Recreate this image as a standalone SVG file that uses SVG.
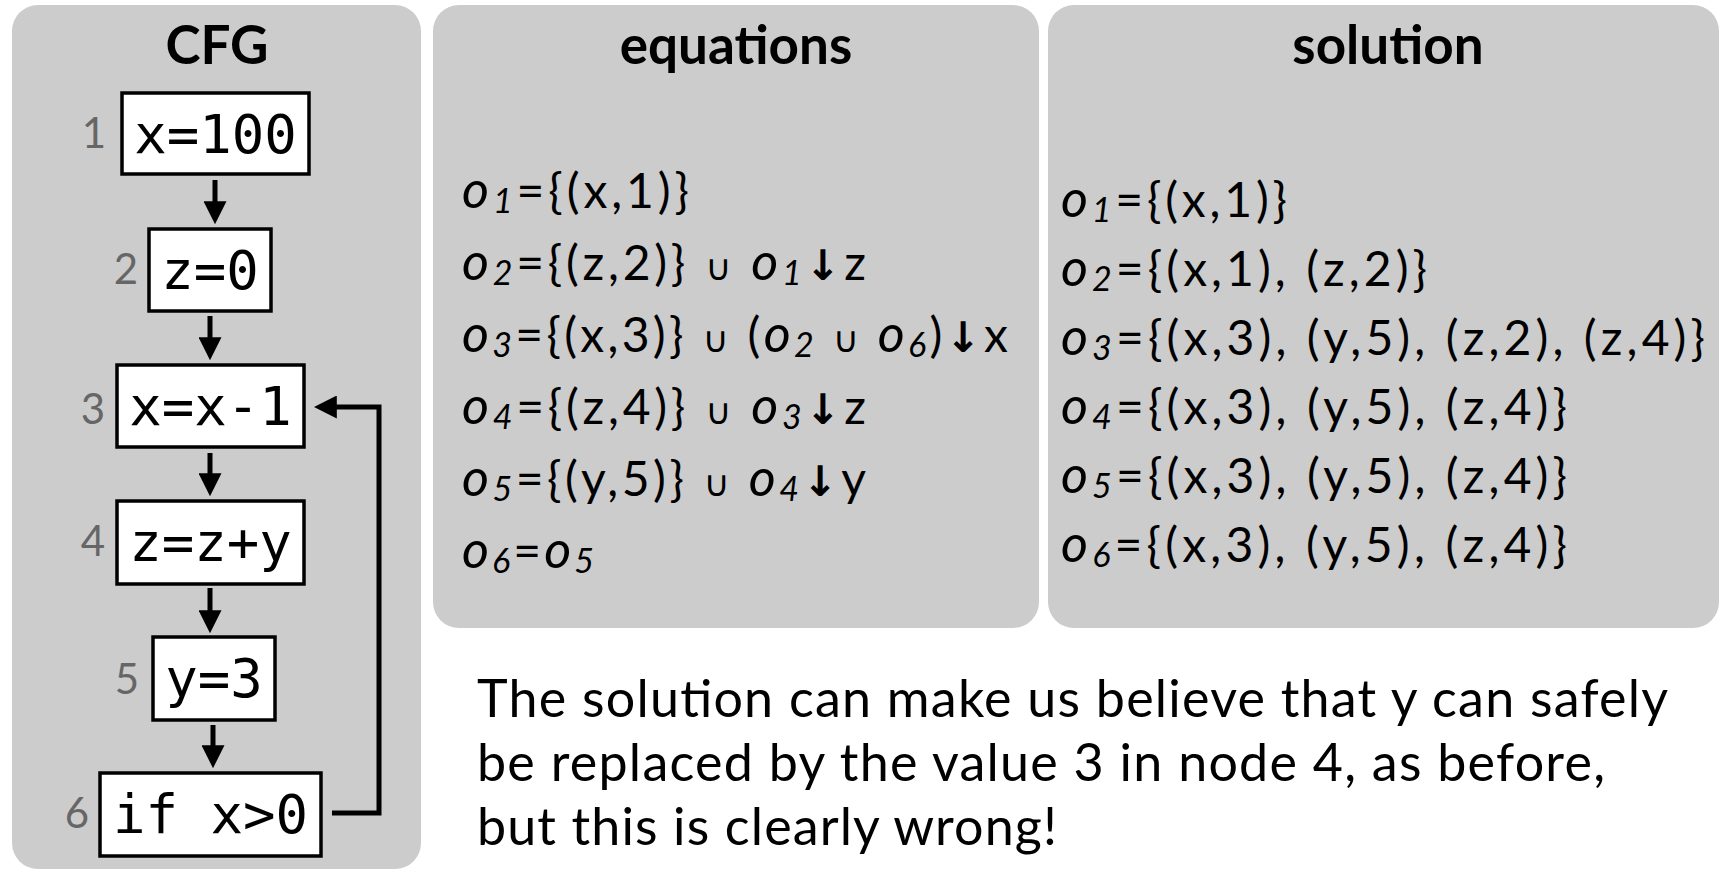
<svg xmlns="http://www.w3.org/2000/svg" width="1721" height="870" viewBox="0 0 1721 870">
<defs>
<style>
.panel{fill:#cccccc}
.title{font-family:"Lato","Open Sans",sans-serif;font-weight:bold;font-size:53px;fill:#000;text-anchor:middle}
.box{fill:#fff;stroke:#000;stroke-width:3.5}
.code{font-family:"DejaVu Sans Mono",monospace;font-size:54px;fill:#000;text-anchor:middle}
.num{font-family:"Lato","Open Sans",sans-serif;font-size:42px;fill:#666;text-anchor:end}
.edge{fill:none;stroke:#000;stroke-width:5}
.eq{font-family:"Lato","Open Sans",sans-serif;font-size:48px;fill:#000}
.o{font-style:italic;font-size:52px}
.s{font-style:italic;font-size:34px}
.u{font-family:"DejaVu Sans",sans-serif;font-size:36px}
.ar{font-family:"DejaVu Sans",sans-serif;font-size:42px;font-weight:bold}
.body{font-family:"Lato","Open Sans",sans-serif;font-size:52px;fill:#000}
</style>
<marker id="ah" viewBox="0 0 20 20" refX="12" refY="10" markerWidth="23" markerHeight="23" markerUnits="userSpaceOnUse" orient="auto">
<path d="M0,0 L20,10 L0,20 z" fill="#000"/>
</marker>
</defs>
<rect width="1721" height="870" fill="#fff"/>

<g id="panel-cfg">
<rect class="panel" x="12" y="5" width="409" height="864" rx="26"/>
<text class="title" x="217" y="64">CFG</text>
</g>
<g id="panel-equations">
<rect class="panel" x="433" y="5" width="606" height="623" rx="26"/>
<text class="title" x="736" y="64">equations</text>
</g>
<g id="panel-solution">
<rect class="panel" x="1048" y="5" width="671" height="623" rx="26"/>
<text class="title" x="1388" y="64">solution</text>
</g>

<g id="node1">
<rect class="box" x="122" y="93" width="187" height="81"/>
<text class="code" x="215.5" y="153">x=100</text>
<text class="num" x="106" y="148">1</text>
</g>
<g id="node2">
<rect class="box" x="149" y="229" width="122" height="82"/>
<text class="code" x="210" y="289">z=0</text>
<text class="num" x="138" y="284">2</text>
</g>
<g id="node3">
<rect class="box" x="117" y="365" width="187" height="82"/>
<text class="code" x="210.5" y="425">x=x-1</text>
<text class="num" x="105" y="424">3</text>
</g>
<g id="node4">
<rect class="box" x="117" y="501" width="187" height="83"/>
<text class="code" x="210.5" y="561">z=z+y</text>
<text class="num" x="105" y="556">4</text>
</g>
<g id="node5">
<rect class="box" x="153" y="637" width="122" height="83"/>
<text class="code" x="214" y="697">y=3</text>
<text class="num" x="139" y="694">5</text>
</g>
<g id="node6">
<rect class="box" x="100" y="773" width="221" height="83"/>
<text class="code" x="210.5" y="833">if x&gt;0</text>
<text class="num" x="89" y="828">6</text>
</g>

<g id="connectors">
<line class="edge" x1="215" y1="180" x2="215" y2="215" marker-end="url(#ah)"/>
<line class="edge" x1="210" y1="316" x2="210" y2="351" marker-end="url(#ah)"/>
<line class="edge" x1="210" y1="453" x2="210" y2="487" marker-end="url(#ah)"/>
<line class="edge" x1="210" y1="588" x2="210" y2="624" marker-end="url(#ah)"/>
<line class="edge" x1="213" y1="725" x2="213" y2="759" marker-end="url(#ah)"/>
<path class="edge" d="M332,813 H379 V407 H323" marker-end="url(#ah)"/>
</g>

<g id="equations">
<text class="eq" x="462" y="208" textLength="227"><tspan class="o">o</tspan><tspan class="s" dy="5">1</tspan><tspan dy="-5">={(x,1)}</tspan></text>
<text class="eq" x="462" y="280" textLength="404"><tspan class="o">o</tspan><tspan class="s" dy="5">2</tspan><tspan dy="-5">={(z,2)} </tspan><tspan class="u">∪</tspan> <tspan class="o">o</tspan><tspan class="s" dy="5">1</tspan><tspan class="ar" dy="-5">↓</tspan>z</text>
<text class="eq" x="462" y="352" textLength="546"><tspan class="o">o</tspan><tspan class="s" dy="5">3</tspan><tspan dy="-5">={(x,3)} </tspan><tspan class="u">∪</tspan> (<tspan class="o">o</tspan><tspan class="s" dy="5">2</tspan><tspan dy="-5"> </tspan><tspan class="u">∪</tspan> <tspan class="o">o</tspan><tspan class="s" dy="5">6</tspan><tspan dy="-5">)</tspan><tspan class="ar">↓</tspan>x</text>
<text class="eq" x="462" y="424" textLength="404"><tspan class="o">o</tspan><tspan class="s" dy="5">4</tspan><tspan dy="-5">={(z,4)} </tspan><tspan class="u">∪</tspan> <tspan class="o">o</tspan><tspan class="s" dy="5">3</tspan><tspan class="ar" dy="-5">↓</tspan>z</text>
<text class="eq" x="462" y="496" textLength="404"><tspan class="o">o</tspan><tspan class="s" dy="5">5</tspan><tspan dy="-5">={(y,5)} </tspan><tspan class="u">∪</tspan> <tspan class="o">o</tspan><tspan class="s" dy="5">4</tspan><tspan class="ar" dy="-5">↓</tspan>y</text>
<text class="eq" x="462" y="568" textLength="132"><tspan class="o">o</tspan><tspan class="s" dy="5">6</tspan><tspan dy="-5">=</tspan><tspan class="o">o</tspan><tspan class="s" dy="5">5</tspan></text>
</g>

<g id="solution">
<text class="eq" x="1061" y="217" textLength="226"><tspan class="o">o</tspan><tspan class="s" dy="5">1</tspan><tspan dy="-5">={(x,1)}</tspan></text>
<text class="eq" x="1061" y="286" textLength="366"><tspan class="o">o</tspan><tspan class="s" dy="5">2</tspan><tspan dy="-5">={(x,1), (z,2)}</tspan></text>
<text class="eq" x="1061" y="355" textLength="644"><tspan class="o">o</tspan><tspan class="s" dy="5">3</tspan><tspan dy="-5">={(x,3), (y,5), (z,2), (z,4)}</tspan></text>
<text class="eq" x="1061" y="424" textLength="506"><tspan class="o">o</tspan><tspan class="s" dy="5">4</tspan><tspan dy="-5">={(x,3), (y,5), (z,4)}</tspan></text>
<text class="eq" x="1061" y="493" textLength="506"><tspan class="o">o</tspan><tspan class="s" dy="5">5</tspan><tspan dy="-5">={(x,3), (y,5), (z,4)}</tspan></text>
<text class="eq" x="1061" y="562" textLength="506"><tspan class="o">o</tspan><tspan class="s" dy="5">6</tspan><tspan dy="-5">={(x,3), (y,5), (z,4)}</tspan></text>
</g>

<g id="note">
<text class="body" x="477" y="717" textLength="1191">The solution can make us believe that y can safely</text>
<text class="body" x="477" y="781" textLength="1128">be replaced by the value 3 in node 4, as before,</text>
<text class="body" x="477" y="845" textLength="580">but this is clearly wrong!</text>
</g>
</svg>
